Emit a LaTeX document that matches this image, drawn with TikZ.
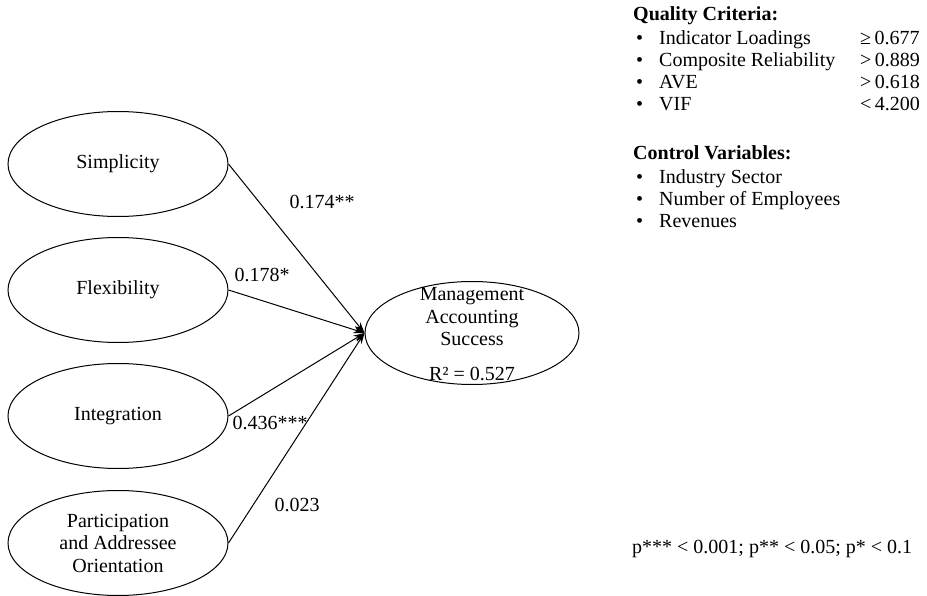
\documentclass[tikz,border=0pt]{standalone}
\usepackage{fontspec}
\setmainfont{Liberation Serif}
\usetikzlibrary{arrows.meta,shapes.geometric}
\begin{document}
\begin{tikzpicture}[x=1pt,y=-1pt,
  every node/.style={font=\fontsize{20pt}{22.5pt}\selectfont, inner sep=0pt},
  construct/.style={draw, line width=1pt, ellipse, minimum width=220pt, minimum height=105pt, align=center},
  path/.style={draw, line width=1pt, -{Stealth[length=11pt,width=7pt]}},
  coef/.style={anchor=center},
  txt/.style={anchor=base west}
]
\useasboundingbox (0,0) rectangle (927,596);

\node[construct] (simp) at (118,164) {Simplicity};
\node[construct] (flex) at (118,290) {Flexibility};
\node[construct] (integ) at (118,416) {Integration};
\node[construct] (part) at (118,543) {Participation\\and Addressee\\Orientation};
\node[draw, line width=1pt, ellipse, minimum width=214pt, minimum height=103pt] (mas) at (472,333) {};
\node[align=center] (mastext) at (472,334) {Management\\Accounting\\Success\\[12pt]R² = 0.527};

\draw[path] (simp.east) -- (mas.west);
\draw[path] (flex.east) -- (mas.west);
\draw[path] (integ.east) -- (mas.west);
\draw[path] (part.east) -- (mas.west);

\node[coef] (c1) at (322,202) {0.174**};
\node[coef] (c2) at (262,275) {0.178*};
\node[coef] (c3) at (270,423) {0.436***};
\node[coef] (c4) at (297,505) {0.023};

\node[txt] (qc) at (633,21) {\bfseries Quality Criteria:};
\foreach \y/\t/\v [count=\i] in {45/Indicator Loadings/≥\,0.677, 67/Composite Reliability/>\,0.889, 89/AVE/>\,0.618, 111/VIF/<\,4.200}{
  \node[txt] (qb\i) at (636,\y) {•};
  \node[txt] (qi\i) at (659,\y) {\t};
  \node[txt] (qv\i) at (860,\y) {\v};
}
\node[txt] (cv) at (633,160) {\bfseries Control Variables:};
\foreach \y/\t [count=\i] in {184/Industry Sector, 206/Number of Employees, 228/Revenues}{
  \node[txt] (cb\i) at (636,\y) {•};
  \node[txt] (ci\i) at (659,\y) {\t};
}
\node[txt] (pv) at (632,553) {p*** < 0.001; p** < 0.05; p* < 0.1};
\end{tikzpicture}
\end{document}
